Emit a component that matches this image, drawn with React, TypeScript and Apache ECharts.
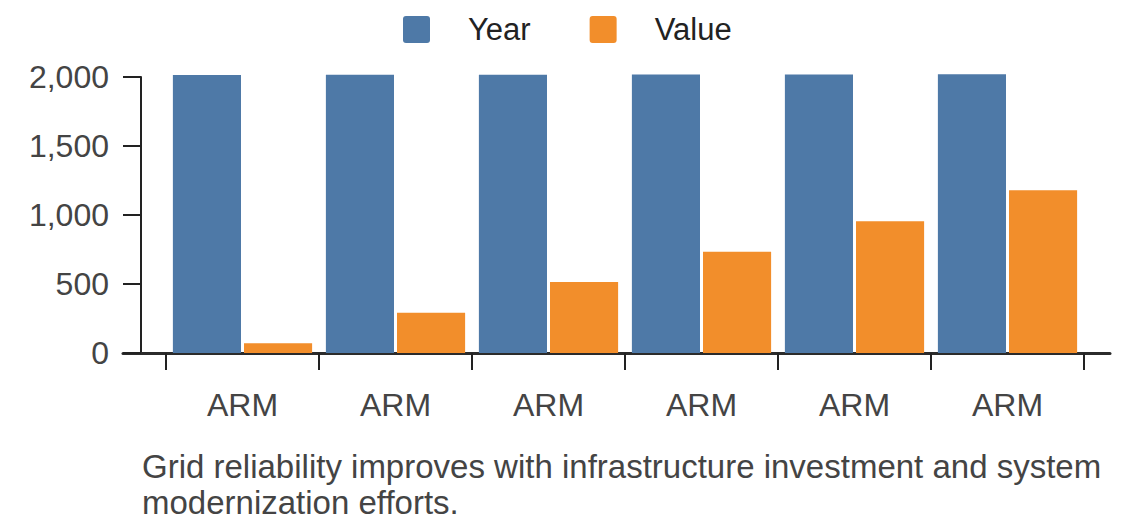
import React, { useEffect, useRef } from "react";
import * as echarts from "echarts";

const categories = ["ARM", "ARM", "ARM", "ARM", "ARM", "ARM"];
const yearValues = [2015, 2016, 2017, 2018, 2019, 2020];
const valueValues = [70, 292, 514, 733, 954, 1180];
const seriesNames = ["Year", "Value"];
const caption =
  "Grid reliability improves with infrastructure investment and system\nmodernization efforts.";

const FONT = "'Liberation Sans', Arial, Helvetica, sans-serif";
const SQUARE_ICON =
  "path://M3,0 H24 Q27,0 27,3 V24 Q27,27 24,27 H3 Q0,27 0,24 V3 Q0,0 3,0 Z";

export default function App() {
  const ref = useRef<HTMLDivElement>(null);
  useEffect(() => {
    document.body.style.margin = "0";
    if (!ref.current) return;
    const chart = echarts.init(ref.current, undefined, { renderer: "svg" });
    chart.setOption({
      animation: false,
      textStyle: { fontFamily: FONT },
      legend: {
        top: 14,
        left: 403,
        padding: 0,
        icon: SQUARE_ICON,
        itemWidth: 27,
        itemHeight: 27,
        itemGap: 59,
        textStyle: {
          fontSize: 31,
          color: "#222",
          fontFamily: FONT,
          padding: [0, 0, 0, 33],
        },
        data: seriesNames,
      },
      grid: [
        { left: 166, right: 56, top: 77, bottom: 175, containLabel: false },
        { left: 123, right: 30, top: 77, bottom: 175, containLabel: false },
      ],
      xAxis: [
        {
          type: "category",
          gridIndex: 0,
          data: categories,
          axisLine: { show: false },
          axisTick: {
            show: true,
            length: 17,
            lineStyle: { color: "#222", width: 2 },
          },
          axisLabel: {
            fontSize: 32,
            color: "#444",
            margin: 36,
            fontFamily: FONT,
          },
        },
        {
          type: "value",
          gridIndex: 1,
          min: 0,
          max: 1,
          position: "bottom",
          axisLine: { show: true, onZero: false, lineStyle: { color: "#2b2b2b", width: 3 } },
          axisTick: { show: false },
          axisLabel: { show: false },
          splitLine: { show: false },
        },
      ],
      yAxis: [
        {
          type: "value",
          gridIndex: 0,
          min: 0,
          max: 2000,
          interval: 500,
          offset: 25,
          axisLine: { show: true, lineStyle: { color: "#222", width: 2 } },
          axisTick: { show: true, length: 18, lineStyle: { color: "#222", width: 2 } },
          axisLabel: {
            fontSize: 32,
            color: "#444",
            margin: 32,
            fontFamily: FONT,
            formatter: (v: number) => v.toLocaleString("en-US"),
          },
          splitLine: { show: false },
        },
        {
          type: "value",
          gridIndex: 1,
          show: false,
          min: 0,
          max: 1,
        },
      ],
      series: [
        {
          name: seriesNames[0],
          type: "bar",
          xAxisIndex: 0,
          yAxisIndex: 0,
          data: yearValues,
          clip: false,
          barCategoryGap: "9%",
          barGap: "4.4%",
          itemStyle: { color: "#4e79a7" },
        },
        {
          name: seriesNames[1],
          type: "bar",
          xAxisIndex: 0,
          yAxisIndex: 0,
          data: valueValues,
          clip: false,
          barCategoryGap: "9%",
          barGap: "4.4%",
          itemStyle: { color: "#f28e2b" },
        },
      ],
      graphic: [
        {
          type: "text",
          left: 142,
          top: 448,
          style: {
            text: caption,
            font: `33px ${FONT}`,
            lineHeight: 36,
            fill: "#444",
          },
        },
      ],
    });
    return () => chart.dispose();
  }, []);
  return <div ref={ref} style={{ width: 1140, height: 528 }} />;
}
